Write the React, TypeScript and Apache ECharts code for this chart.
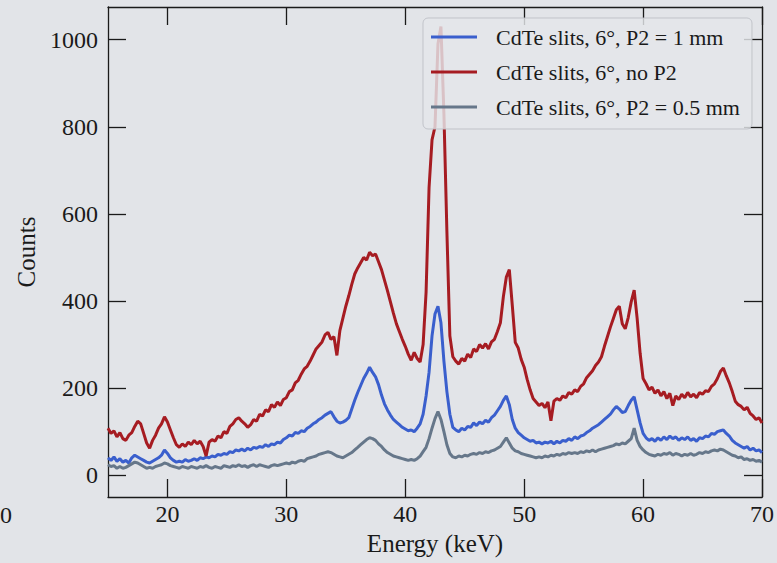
import React, { useEffect, useRef } from "react";
import * as echarts from "echarts";

// Energy grid: 15 keV to 70 keV in 0.25 keV steps (221 points)
const energyStart = 15;
const energyStep = 0.25;

const xTicks = [20, 30, 40, 50, 60, 70];
const yTicks = [0, 200, 400, 600, 800, 1000];

const seriesNames = [
  "CdTe slits, 6\u00b0, P2 = 1 mm",
  "CdTe slits, 6\u00b0, no P2",
  "CdTe slits, 6\u00b0, P2 = 0.5 mm",
];

// CdTe slits, 6°, P2 = 1 mm
const countsP2_1mm = [
  40, 34, 42, 32, 38, 30, 34, 28, 40, 46, 42, 38, 34, 30, 28, 32, 36, 40, 46, 58,
  50, 40, 34, 30, 32, 30, 36, 32, 34, 38, 34, 40, 38, 42, 40, 44, 42, 48, 46, 50,
  48, 54, 52, 58, 56, 60, 56, 62, 58, 64, 62, 66, 64, 70, 66, 72, 70, 76, 74, 82,
  86, 92, 90, 98, 96, 102, 100, 108, 112, 118, 122, 128, 132, 138, 142, 146, 134, 124, 120, 122,
  126, 132, 152, 172, 190, 206, 222, 234, 248, 236, 226, 208, 184, 164, 150, 138, 128, 122, 116, 110,
  106, 102, 104, 100, 108, 118, 140, 182, 236, 320, 370, 388, 350, 262, 192, 140, 110, 104, 100, 108,
  104, 112, 110, 120, 114, 122, 118, 126, 122, 132, 138, 148, 158, 172, 182, 162, 128, 108, 98, 92,
  86, 82, 78, 80, 74, 76, 72, 76, 74, 78, 72, 78, 74, 80, 78, 84, 80, 88, 84, 90,
  92, 98, 102, 108, 112, 116, 122, 128, 134, 140, 150, 158, 152, 144, 146, 160, 172, 180, 150, 120,
  96, 86, 80, 84, 78, 86, 80, 88, 82, 90, 84, 88, 80, 86, 82, 88, 80, 84, 78, 86,
  84, 90, 88, 96, 94, 100, 102, 104, 96, 90, 80, 74, 70, 66, 62, 66, 58, 62, 56, 58,
  52,
];

// CdTe slits, 6°, no P2
const countsNoP2 = [
  108, 96, 102, 88, 98, 84, 80, 92, 98, 112, 124, 118, 96, 74, 62, 80, 92, 108, 118, 134,
  122, 104, 86, 70, 64, 72, 66, 76, 70, 80, 72, 78, 66, 44, 76, 82, 78, 90, 86, 100,
  96, 112, 118, 128, 132, 124, 118, 110, 116, 128, 124, 140, 136, 150, 146, 162, 156, 168, 160, 174,
  178, 192, 196, 212, 218, 232, 244, 250, 262, 276, 290, 298, 306, 322, 328, 312, 318, 275, 332, 360,
  388, 412, 438, 462, 476, 488, 500, 494, 512, 504, 508, 490, 472, 448, 424, 398, 372, 348, 330, 312,
  296, 278, 264, 282, 268, 260, 300, 420, 660, 770, 800, 990, 1030, 830, 560, 320, 272, 262, 255, 268,
  262, 278, 270, 290, 284, 300, 292, 302, 290, 306, 312, 330, 350, 410, 455, 472, 390, 305, 292, 266,
  248, 220, 196, 176, 168, 160, 165, 155, 168, 125, 170, 176, 172, 182, 178, 190, 186, 196, 192, 204,
  210, 224, 232, 240, 252, 260, 272, 296, 318, 340, 360, 380, 388, 348, 336, 362, 398, 425, 360, 280,
  222, 210, 196, 202, 188, 196, 182, 192, 176, 188, 160, 182, 174, 186, 178, 190, 180, 186, 178, 190,
  186, 194, 192, 204, 210, 222, 238, 246, 228, 212, 192, 170, 162, 158, 150, 156, 142, 136, 128, 132,
  120,
];

// CdTe slits, 6°, P2 = 0.5 mm
const countsP2_05mm = [
  24, 20, 22, 16, 20, 16, 18, 22, 26, 30, 28, 24, 20, 16, 18, 16, 20, 22, 24, 28,
  26, 22, 20, 18, 16, 20, 18, 16, 20, 18, 16, 20, 18, 22, 18, 16, 20, 18, 16, 22,
  20, 18, 22, 20, 24, 20, 22, 18, 22, 24, 20, 24, 22, 20, 18, 22, 24, 22, 24, 26,
  28, 26, 30, 28, 32, 34, 32, 38, 40, 42, 44, 48, 50, 52, 54, 52, 48, 44, 42, 40,
  44, 48, 52, 58, 64, 70, 76, 82, 86, 84, 80, 72, 66, 58, 52, 48, 44, 42, 40, 38,
  36, 34, 36, 34, 38, 44, 54, 64, 84, 108, 130, 146, 128, 100, 70, 50, 42, 40, 44, 42,
  46, 44, 48, 50, 48, 52, 50, 54, 52, 56, 58, 62, 66, 76, 86, 74, 62, 56, 54, 50,
  48, 46, 44, 42, 40, 42, 40, 44, 42, 46, 44, 48, 46, 50, 48, 52, 50, 52, 50, 54,
  52, 56, 54, 58, 54, 58, 60, 62, 64, 66, 68, 72, 70, 74, 72, 78, 84, 108, 80, 66,
  58, 52, 48, 46, 44, 48, 46, 50, 48, 52, 46, 50, 48, 44, 48, 46, 50, 46, 48, 52,
  50, 54, 52, 56, 58, 56, 60, 58, 54, 50, 46, 44, 40, 42, 36, 38, 34, 36, 32, 34,
  30,
];

const seriesCounts = [countsP2_1mm, countsNoP2, countsP2_05mm];
const seriesColors = ["#3a5fcd", "#a61c22", "#66778a"];

const serifFont = "'Liberation Serif', 'Times New Roman', serif";
const bg = "#e2e4e8";

export default function App() {
  const ref = useRef<HTMLDivElement>(null);

  useEffect(() => {
    if (!ref.current) return;
    const chart = echarts.init(ref.current, undefined, { renderer: "svg" });

    const axisLineStyle = { color: "#1a1a1a", width: 1.3 };
    const tickStyle = { color: "#1a1a1a", width: 1.3 };
    const labelStyle = { fontFamily: serifFont, fontSize: 24, color: "#1a1a1a" };

    const series = seriesCounts.map((arr, k) => ({
      name: seriesNames[k],
      type: "line",
      data: arr.map((c, i) => [energyStart + energyStep * i, c]),
      symbol: "none",
      showSymbol: false,
      lineStyle: { color: seriesColors[k], width: 3 },
      itemStyle: { color: seriesColors[k] },
      z: 2 + k,
    }));

    chart.setOption({
      animation: false,
      backgroundColor: bg,
      grid: { left: 108, right: 11, top: 7, bottom: 66, containLabel: false },
      xAxis: [
        {
          type: "value",
          min: 15,
          max: 70,
          position: "bottom",
          axisLine: { show: true, onZero: false, lineStyle: axisLineStyle },
          axisTick: { show: true, inside: true, length: 18, customValues: xTicks, lineStyle: tickStyle },
          axisLabel: { show: true, customValues: xTicks, margin: 5, formatter: (v: number) => String(v), ...labelStyle },
          splitLine: { show: false },
          name: "Energy (keV)",
          nameLocation: "middle",
          nameGap: 34,
          nameTextStyle: { fontFamily: serifFont, fontSize: 25, color: "#1a1a1a" },
        },
        {
          type: "value",
          min: 15,
          max: 70,
          position: "top",
          axisLine: { show: true, onZero: false, lineStyle: axisLineStyle },
          axisTick: { show: true, inside: true, length: 18, customValues: xTicks, lineStyle: tickStyle },
          axisLabel: { show: false },
          splitLine: { show: false },
        },
      ],
      yAxis: [
        {
          type: "value",
          min: -50,
          max: 1075,
          position: "left",
          axisLine: { show: true, onZero: false, lineStyle: axisLineStyle },
          axisTick: { show: true, inside: true, length: 18, customValues: yTicks, lineStyle: tickStyle },
          axisLabel: { show: true, customValues: yTicks, margin: 10, formatter: (v: number) => String(v), ...labelStyle },
          splitLine: { show: false },
          name: "Counts",
          nameLocation: "middle",
          nameGap: 68,
          nameTextStyle: { fontFamily: serifFont, fontSize: 25, color: "#1a1a1a" },
        },
        {
          type: "value",
          min: -50,
          max: 1075,
          position: "right",
          axisLine: { show: true, onZero: false, lineStyle: axisLineStyle },
          axisTick: { show: true, inside: true, length: 18, customValues: yTicks, lineStyle: tickStyle },
          axisLabel: { show: false },
          splitLine: { show: false },
        },
      ],
      legend: {
        show: true,
        orient: "vertical",
        left: 423,
        top: 18,
        data: seriesNames,
        icon: "rect",
        itemWidth: 46,
        itemHeight: 3,
        itemGap: 13,
        padding: [8, 12, 11, 8],
        backgroundColor: "rgba(228,230,234,0.82)",
        borderColor: "rgba(190,192,198,0.9)",
        borderWidth: 1,
        borderRadius: 5,
        textStyle: {
          fontFamily: serifFont,
          fontSize: 22,
          color: "#1a1a1a",
          padding: [0, 0, 0, 14],
        },
        z: 10,
      },
      graphic: [
        {
          type: "text",
          left: 0,
          top: 503,
          style: { text: "0", font: `24px ${serifFont}`, fill: "#1a1a1a" },
        },
      ],
      series,
    });

    return () => chart.dispose();
  }, []);

  return (
    <div
      ref={ref}
      style={{ position: "fixed", left: 0, top: 0, width: 777, height: 563, background: bg }}
    />
  );
}
